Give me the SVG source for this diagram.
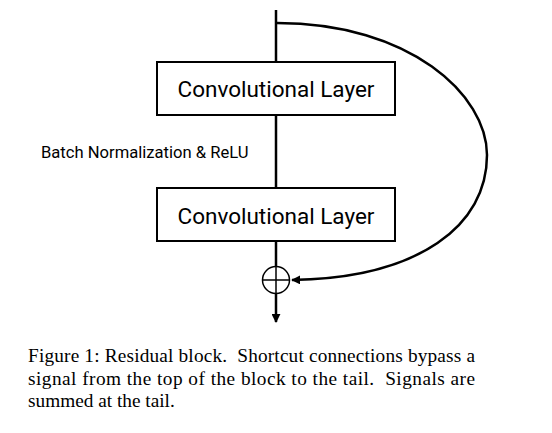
<svg xmlns="http://www.w3.org/2000/svg" width="552" height="433" viewBox="0 0 552 433">
<defs>
<style>
.box{fill:#fff;stroke:#000;stroke-width:2}
.lbl{font-family:Roboto,"Liberation Sans",sans-serif;fill:#000}
.ln{fill:none;stroke:#000;stroke-width:2.5}
.cap{font-family:"Liberation Serif",serif;font-size:19.3px;fill:#000;white-space:pre}
</style>
<marker id="ah2" viewBox="0 0 10 10" refX="9" refY="5" markerWidth="9" markerHeight="9" orient="auto" markerUnits="userSpaceOnUse">
<path d="M0,0 L10,5 L0,10 z" fill="#000"/>
</marker>
</defs>
<g id="connectors">
<line class="ln" x1="276" y1="10" x2="276" y2="62"/>
<line class="ln" x1="276" y1="115" x2="276" y2="188"/>
<line class="ln" x1="276" y1="241" x2="276" y2="266"/>
<line class="ln" x1="276" y1="294" x2="276" y2="322" marker-end="url(#ah2)"/>
<path class="ln" d="M277,23 C410,23 487,95 487,155 C487,225 420,278 292,280" marker-end="url(#ah2)"/>
</g>
<g id="conv1">
<rect class="box" x="157" y="62" width="238" height="53"/>
<text class="lbl" x="276" y="97" font-size="22.5" text-anchor="middle">Convolutional Layer</text>
</g>
<text id="bn" class="lbl" x="41" y="158" font-size="16.6">Batch Normalization &amp; ReLU</text>
<g id="conv2">
<rect class="box" x="157" y="188" width="238" height="53"/>
<text class="lbl" x="276" y="224" font-size="22.5" text-anchor="middle">Convolutional Layer</text>
</g>
<g id="sum">
<circle cx="276" cy="280" r="13.5" fill="#fff" stroke="#000" stroke-width="1.5"/>
<line x1="263" y1="280" x2="289" y2="280" stroke="#000" stroke-width="1.5"/>
<line x1="276" y1="267" x2="276" y2="293" stroke="#000" stroke-width="1.5"/>
</g>
<g id="caption">
<text class="cap" x="28" y="362" textLength="447" lengthAdjust="spacing">Figure 1: Residual block.  Shortcut connections bypass a</text>
<text class="cap" x="28" y="385" textLength="447" lengthAdjust="spacing">signal from the top of the block to the tail.  Signals are</text>
<text class="cap" x="28" y="407">summed at the tail.</text>
</g>
</svg>
